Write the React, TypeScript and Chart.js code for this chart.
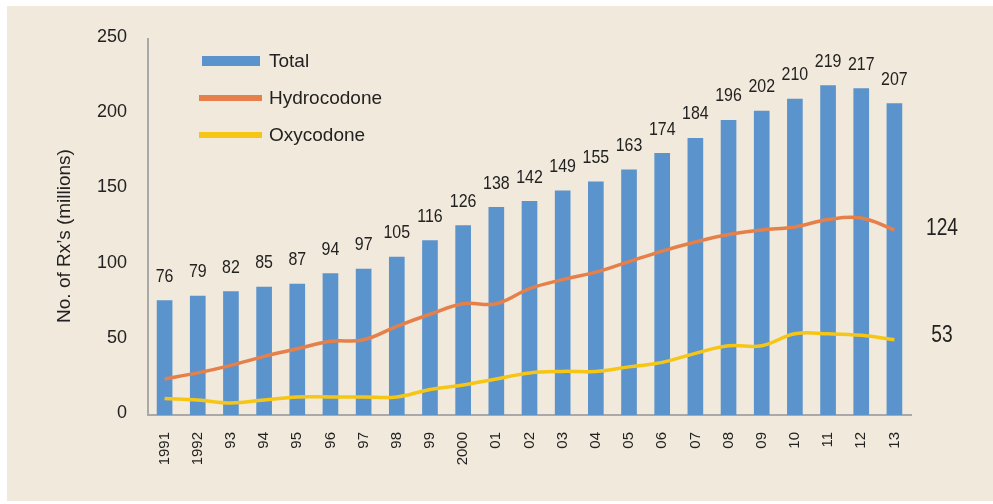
import React, { useEffect, useRef } from "react";
import { Chart, registerables } from "chart.js";

Chart.register(...registerables);

const years = ["1991", "1992", "93", "94", "95", "96", "97", "98", "99", "2000", "01", "02", "03", "04", "05", "06", "07", "08", "09", "10", "11", "12", "13"];
const totalRx = [76, 79, 82, 85, 87, 94, 97, 105, 116, 126, 138, 142, 149, 155, 163, 174, 184, 196, 202, 210, 219, 217, 207];
const hydrocodoneRx = [24, 28, 33, 39, 44, 49, 50, 59, 67, 74, 74, 84, 90, 95, 102, 109, 115, 120, 123, 125, 130, 131, 123];
const oxycodoneRx = [11, 10, 8, 10, 12, 12, 12, 12, 17, 20, 24, 28, 29, 29, 32, 35, 41, 46, 46, 54, 54, 53, 50];
const seriesNames = ["Total", "Hydrocodone", "Oxycodone"];
const endLabelValues = [124, 53];
const yAxisTitle = "No. of Rx’s (millions)";

const SANS = '"Liberation Sans", Arial, Helvetica, sans-serif';
const TEXT = "#222222";
const BLUE = "#5b93cd";
const ORANGE = "#e5804a";
const YELLOW = "#f6c616";

const bgPlugin = {
  id: "bgPlugin",
  beforeDraw(chart: any) {
    const { ctx, width, height } = chart;
    ctx.save();
    ctx.fillStyle = "#ffffff";
    ctx.fillRect(0, 0, width, height);
    ctx.fillStyle = "#f1e9db";
    ctx.fillRect(7, 6, width - 7, height - 9);
    ctx.restore();
  },
};

function narrowText(ctx: any, text: string, x: number, y: number, sx: number) {
  ctx.save();
  ctx.translate(x, y);
  ctx.scale(sx, 1);
  ctx.fillText(text, 0, 0);
  ctx.restore();
}

const annotatePlugin = {
  id: "annotatePlugin",
  afterDatasetsDraw(chart: any) {
    const { ctx, chartArea } = chart;
    const yScale = chart.scales.y;
    ctx.save();
    ctx.fillStyle = TEXT;
    ctx.textAlign = "center";
    ctx.textBaseline = "middle";

    // bar value labels
    ctx.font = `19px ${SANS}`;
    const barMeta = chart.getDatasetMeta(0);
    barMeta.data.forEach((bar: any, i: number) => {
      narrowText(ctx, String(chart.data.datasets[0].data[i]), bar.x, bar.y - 24, 0.84);
    });

    // end labels for lines
    ctx.font = `24px ${SANS}`;
    endLabelValues.forEach((v) => {
      narrowText(ctx, String(v), chartArea.right + 31, yScale.getPixelForValue(v), 0.8);
    });

    // y-axis title
    ctx.save();
    ctx.font = `19px ${SANS}`;
    ctx.translate(65, 236);
    ctx.rotate(-Math.PI / 2);
    ctx.fillText(yAxisTitle, 0, 0);
    ctx.restore();

    // legend
    ctx.textAlign = "left";
    ctx.font = `19px ${SANS}`;
    chart.data.datasets.forEach((ds: any, i: number) => {
      const cy = chartArea.top + 22 + i * 37;
      if (ds.type === "bar" || !ds.type) {
        ctx.fillStyle = ds.backgroundColor;
        ctx.fillRect(chartArea.left + 54, cy - 5, 58, 10);
      } else {
        ctx.fillStyle = ds.borderColor;
        ctx.fillRect(chartArea.left + 51, cy - 3, 63, 6);
      }
      ctx.fillStyle = TEXT;
      ctx.fillText(ds.label, chartArea.left + 121, cy + 1);
    });
    ctx.restore();
  },
};

export default function App() {
  const ref = useRef<HTMLCanvasElement | null>(null);

  useEffect(() => {
    if (!ref.current) return;
    const chart = new Chart(ref.current, {
      type: "bar",
      data: {
        labels: years,
        datasets: [
          {
            type: "bar",
            label: seriesNames[0],
            data: totalRx,
            backgroundColor: BLUE,
            barThickness: 15,
            order: 2,
          } as any,
          {
            type: "line",
            label: seriesNames[1],
            data: hydrocodoneRx,
            borderColor: ORANGE,
            backgroundColor: ORANGE,
            borderWidth: 3.5,
            pointRadius: 0,
            tension: 0.4,
            order: 1,
          } as any,
          {
            type: "line",
            label: seriesNames[2],
            data: oxycodoneRx,
            borderColor: YELLOW,
            backgroundColor: YELLOW,
            borderWidth: 3.5,
            pointRadius: 0,
            tension: 0.4,
            order: 1,
          } as any,
        ],
      },
      options: {
        responsive: false,
        animation: false,
        devicePixelRatio: 1,
        layout: { padding: { left: 0, right: 82, top: 39, bottom: 0 } },
        plugins: {
          legend: { display: false },
          tooltip: { enabled: false },
        },
        scales: {
          x: {
            grid: { display: false, drawTicks: false },
            border: { display: true, color: "#a9a9a9", width: 2 },
            ticks: {
              color: TEXT,
              font: { family: SANS, size: 15 },
              minRotation: 90,
              maxRotation: 90,
              padding: 17,
              autoSkip: false,
            },
            afterFit: (scale: any) => {
              scale.height = 89;
            },
          },
          y: {
            min: 0,
            max: 250,
            grid: { display: false, drawTicks: false },
            border: { display: true, color: "#a9a9a9", width: 2 },
            ticks: {
              stepSize: 50,
              color: TEXT,
              font: { family: SANS, size: 18 },
              padding: 21,
              labelOffset: -2,
            },
            afterFit: (scale: any) => {
              scale.width = 148;
            },
          },
        },
      },
      plugins: [bgPlugin, annotatePlugin],
    } as any);
    return () => chart.destroy();
  }, []);

  return (
    <div style={{ position: "fixed", left: 0, top: 0, width: 993, height: 504 }}>
      <canvas ref={ref} width={993} height={504} style={{ display: "block" }} />
    </div>
  );
}
